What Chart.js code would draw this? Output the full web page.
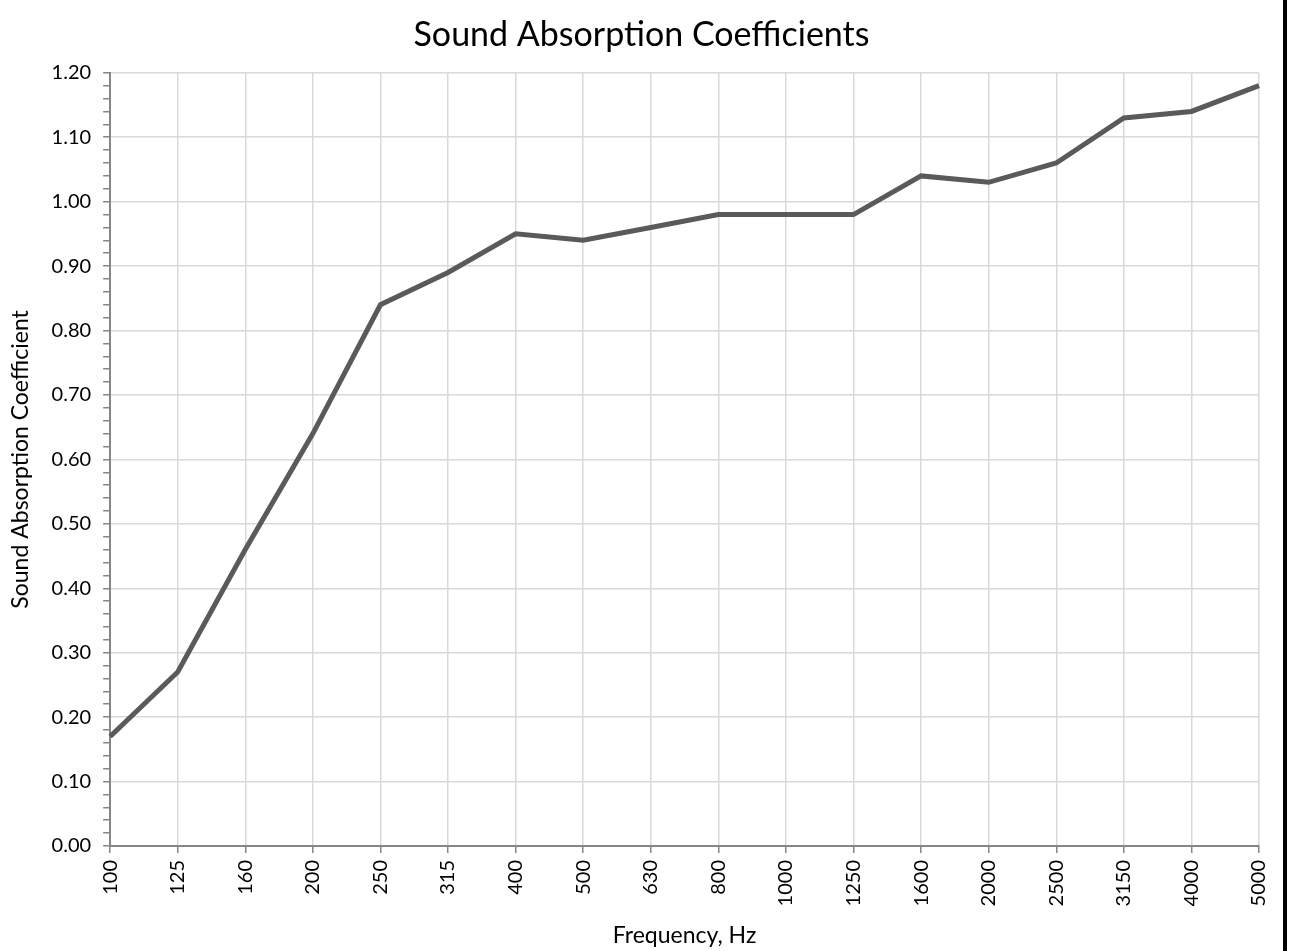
<!DOCTYPE html>
<html>
<head>
<meta charset="utf-8">
<script src="https://cdn.jsdelivr.net/npm/chart.js@4"></script>
<style>
  body { margin: 0; background: #fff; }
  #wrap { position: relative; width: 1290px; height: 951px; }
  #edge { position: absolute; left: 1283px; top: 0; width: 4px; height: 951px; background: #000; }
</style>
</head>
<body>
<div id="wrap"><canvas id="lineChart"></canvas><div id="edge"></div></div>
<script>
const frequencies = ["100", "125", "160", "200", "250", "315", "400", "500", "630",
  "800", "1000", "1250", "1600", "2000", "2500", "3150", "4000", "5000"];
const coefficients = [0.17, 0.27, 0.46, 0.64, 0.84, 0.89, 0.95, 0.94, 0.96,
  0.98, 0.98, 0.98, 1.04, 1.03, 1.06, 1.13, 1.14, 1.18];
const yMin = 0;
const yMax = 1.2;
const yMinorStep = 0.02;

const fontFamily = "Lato, 'Noto Sans', sans-serif";
const axisGray = "#868686";
const gridGray = "#d9d9d9";

function isMajor(v) {
  return Math.abs(v * 10 - Math.round(v * 10)) < 1e-6;
}

const ctx = document.getElementById("lineChart");
new Chart(ctx, {
  type: "line",
  data: {
    labels: frequencies,
    datasets: [
      {
        label: "Sound Absorption Coefficient",
        data: coefficients,
        borderColor: "#5a5a5a",
        borderWidth: 5,
        pointRadius: 0,
        tension: 0,
      },
    ],
  },
  options: {
    responsive: true,
    maintainAspectRatio: false,
    animation: false,
    layout: { padding: { top: 0, right: 14, bottom: 2, left: 7 } },
    plugins: {
      legend: { display: false },
      tooltip: { enabled: false },
      title: {
        display: true,
        text: "Sound Absorption Coefficients",
        color: "#000",
        font: { family: fontFamily, size: 34, weight: "normal" },
        padding: { top: 15, bottom: 17 },
      },
    },
    scales: {
      x: {
        offset: false,
        grid: {
          color: gridGray,
          lineWidth: 1.5,
          tickColor: axisGray,
          tickLength: 7,
        },
        border: { color: axisGray, width: 2 },
        ticks: {
          color: "#000",
          font: { family: fontFamily, size: 20 },
          minRotation: 90,
          maxRotation: 90,
          autoSkip: false,
          padding: 7,
        },
        title: {
          display: true,
          text: "Frequency, Hz",
          color: "#000",
          font: { family: fontFamily, size: 23 },
          padding: { top: 8, bottom: 0 },
        },
      },
      y: {
        min: yMin,
        max: yMax,
        grid: {
          color: (c) => (c.tick && isMajor(c.tick.value) ? gridGray : "rgba(0,0,0,0)"),
          lineWidth: 1.5,
          tickColor: axisGray,
          tickLength: 7,
        },
        border: { color: axisGray, width: 2 },
        ticks: {
          stepSize: yMinorStep,
          autoSkip: false,
          color: "#000",
          font: { family: fontFamily, size: 20 },
          padding: 12,
          callback: (v) => (isMajor(v) ? v.toFixed(2) : ""),
        },
        title: {
          display: true,
          text: "Sound Absorption Coefficient",
          color: "#000",
          font: { family: fontFamily, size: 23 },
          padding: { top: 0, bottom: 5 },
        },
      },
    },
  },
});
</script>
</body>
</html>
